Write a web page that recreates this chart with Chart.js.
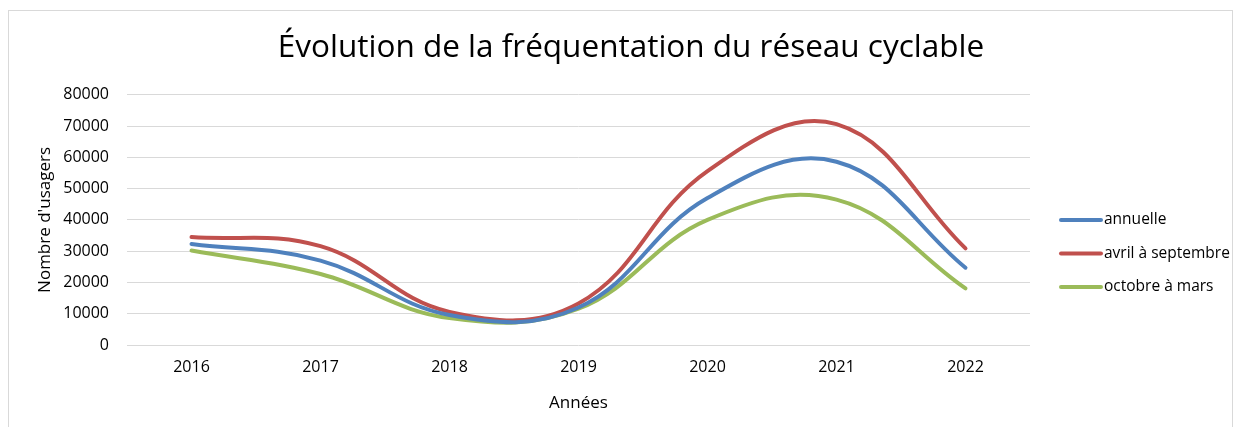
<!DOCTYPE html>
<html lang="fr">
<head>
<meta charset="utf-8">
<script src="https://cdn.jsdelivr.net/npm/chart.js@4/dist/chart.umd.min.js"></script>
<style>
  html, body { margin: 0; padding: 0; background: #fff; overflow: hidden; }
  #wrap { position: relative; width: 1242px; height: 427px; }
  #frame { position: absolute; left: 8px; top: 10px; width: 1225px; height: 430px; border: 1px solid #d9d9d9; box-sizing: border-box; }
  #chart { position: absolute; left: 0; top: 0; }
</style>
</head>
<body>
<div id="wrap">
  <div id="frame"></div>
  <canvas id="chart" width="1242" height="427"></canvas>
</div>
<script>
// ─── DONNÉES ───
const years = ['2016', '2017', '2018', '2019', '2020', '2021', '2022'];
const annuelle = [32300, 27000, 9600, 12000, 47000, 58600, 24700];
const avrilSeptembre = [34500, 31600, 10600, 13300, 55600, 70600, 30900];
const octobreMars = [30200, 22700, 8600, 11600, 40000, 46500, 18100];
const seriesNames = ['annuelle', 'avril à septembre', 'octobre à mars'];
const seriesColors = ['#4f81bd', '#c0504d', '#9bbb59'];

const FONT = '"Open Sans", sans-serif';

// légende dessinée à droite, comme dans Excel
const sideLegend = {
  id: 'sideLegend',
  afterDraw(chart) {
    const ctx = chart.ctx;
    ctx.save();
    ctx.font = '15.5px ' + FONT;
    ctx.textBaseline = 'middle';
    ctx.fillStyle = '#000';
    const x0 = chart.chartArea.right + 31;
    chart.data.datasets.forEach((ds, i) => {
      const y = 220 + i * 33.5;
      ctx.strokeStyle = ds.borderColor;
      ctx.lineWidth = 4;
      ctx.lineCap = 'round';
      ctx.beginPath();
      ctx.moveTo(x0, y);
      ctx.lineTo(x0 + 40, y);
      ctx.stroke();
      ctx.fillText(ds.label, x0 + 43, y);
    });
    ctx.restore();
  }
};

const datasets = [annuelle, avrilSeptembre, octobreMars].map((vals, i) => ({
  label: seriesNames[i],
  data: vals,
  borderColor: seriesColors[i],
  backgroundColor: seriesColors[i],
  borderWidth: 4,
  pointRadius: 0,
  tension: 0.4,
  borderCapStyle: 'round',
  fill: false,
}));

new Chart(document.getElementById('chart'), {
  type: 'line',
  data: { labels: years, datasets },
  plugins: [sideLegend],
  options: {
    responsive: false,
    animation: false,
    layout: { padding: { left: 20, right: 0, top: 0, bottom: 10 } },
    plugins: {
      legend: { display: false },
      tooltip: { enabled: false },
      title: {
        display: true,
        text: 'Évolution de la fréquentation du réseau cyclable',
        color: '#000',
        font: { size: 31.5, family: FONT, weight: 'normal' },
        padding: { top: 29, bottom: 28 },
      }
    },
    scales: {
      x: {
        offset: true,
        grid: { display: false, drawTicks: false },
        border: { display: false },
        ticks: { color: '#000', font: { size: 16, family: FONT }, padding: 13, maxRotation: 0 },
        title: {
          display: true,
          text: 'Années',
          color: '#000',
          font: { size: 17, family: FONT },
          padding: { top: 0, bottom: 4 },
        },
        afterFit: s => { s.height = 72; },
      },
      y: {
        min: 0,
        max: 80000,
        ticks: {
          stepSize: 10000,
          color: '#000',
          font: { size: 16, family: FONT },
          padding: 18,
          callback: v => String(v),
        },
        grid: { color: '#d9d9d9', lineWidth: 1, drawTicks: false },
        border: { display: false },
        title: {
          display: true,
          text: "Nombre d'usagers",
          color: '#000',
          font: { size: 17, family: FONT },
          padding: { top: 15, bottom: 0 },
        },
        afterFit: s => { s.width = 107; },
      },
      // axe vide à droite : réserve la place de la légende
      legendSpace: {
        type: 'linear',
        position: 'right',
        min: 0,
        max: 1,
        grid: { display: false },
        border: { display: false },
        ticks: { display: false },
        afterFit: s => { s.width = 212; },
      }
    }
  }
});
</script>
</body>
</html>
